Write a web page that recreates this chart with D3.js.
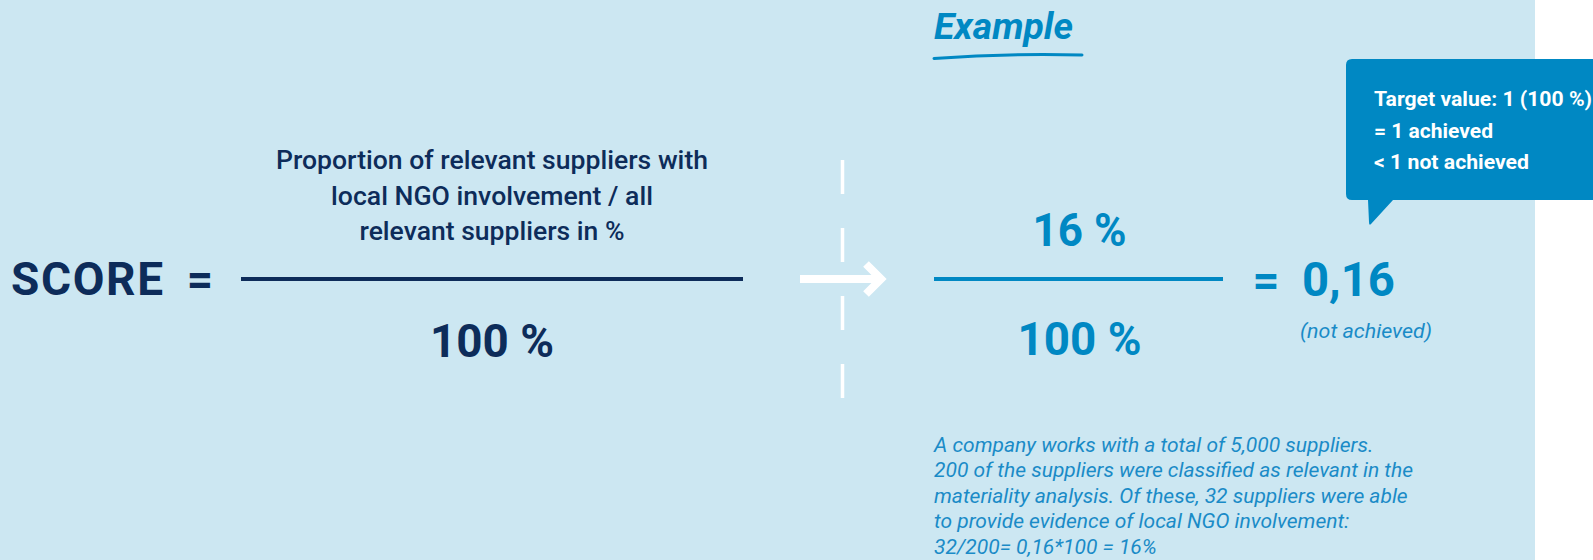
<!DOCTYPE html>
<html>
<head>
<meta charset="utf-8">
<script src="https://cdn.jsdelivr.net/npm/d3@7"></script>
<style>
  html, body { margin: 0; padding: 0; background: #fff; }
  svg { display: block; }
</style>
</head>
<body>
<svg id="chart"></svg>
<script>
// formula text
const scoreLabel = 'SCORE';
const formulaNumerator = [
    'Proportion of relevant suppliers with',
    'local NGO involvement / all',
    'relevant suppliers in %',
];
const formulaDenominator = 100;

// worked example
const exampleTitle = 'Example';
const exampleNumerator = 16;
const exampleDenominator = 100;
const exampleScore = exampleNumerator / exampleDenominator;
const exampleStatus = '(not achieved)';
const targetLines = ['Target value: 1 (100 %)', '= 1 achieved', '< 1 not achieved'];
const exampleNote = [
    'A company works with a total of 5,000 suppliers.',
    '200 of the suppliers were classified as relevant in the',
    'materiality analysis. Of these, 32 suppliers were able',
    'to provide evidence of local NGO involvement:',
    '32/200= 0,16*100 = 16%',
];

const width = 1593;
const height = 560;
const colors = {
    bg: '#cce7f2',
    navy: '#0d2c5a',
    blue: '#0088c3',
    text: '#1a8bc7',
};

const de = d3.formatLocale({ decimal: ',', thousands: '.', grouping: [3], currency: ['', ' €'] });
const fmtScore = de.format('.2f');
const pct = v => `${v} %`;

const svg = d3.select('#chart')
    .attr('width', width)
    .attr('height', height)
    .style('font-family', 'Roboto, "Noto Sans", sans-serif');

svg.append('rect')
    .attr('width', 1535)
    .attr('height', height)
    .attr('fill', colors.bg);

// squeeze/stretch a text to the width it has in the picture
function fit(sel, w) {
    sel.attr('textLength', w).attr('lengthAdjust', 'spacingAndGlyphs');
    return sel;
}

// ---- left: formula ----
const left = svg.append('g');

left.append('text')
    .attr('x', 11)
    .attr('y', 295)
    .attr('fill', colors.navy)
    .style('font-size', '46px')
    .style('font-weight', 700)
    .attr('textLength', 152)
    .attr('lengthAdjust', 'spacing')
    .text(scoreLabel);

left.append('text')
    .attr('x', 200)
    .attr('y', 295)
    .attr('text-anchor', 'middle')
    .attr('fill', colors.navy)
    .style('font-size', '46px')
    .style('font-weight', 700)
    .text('=');

const leftLine = d3.scaleLinear().domain([0, 1]).range([241, 743]);
const leftMid = leftLine(0.5);

left.append('line')
    .attr('x1', leftLine(0)).attr('x2', leftLine(1))
    .attr('y1', 279).attr('y2', 279)
    .attr('stroke', colors.navy)
    .attr('stroke-width', 4);

const numWidths = [432, 322, 265];
const numY = [169, 205, 240];
left.selectAll('text.num')
    .data(formulaNumerator)
    .join('text')
    .attr('class', 'num')
    .attr('x', leftMid)
    .attr('y', (d, i) => numY[i])
    .attr('text-anchor', 'middle')
    .attr('fill', colors.navy)
    .style('font-size', '25px')
    .style('font-weight', 500)
    .text(d => d)
    .each(function (d, i) { fit(d3.select(this), numWidths[i]); });

fit(left.append('text')
    .attr('x', leftMid)
    .attr('y', 357)
    .attr('text-anchor', 'middle')
    .attr('fill', colors.navy)
    .style('font-size', '47px')
    .style('font-weight', 700)
    .text(pct(formulaDenominator)), 124);

// ---- divider and arrow ----
svg.append('line')
    .attr('x1', 842.5).attr('x2', 842.5)
    .attr('y1', 160).attr('y2', 398)
    .attr('stroke', '#fff')
    .attr('stroke-width', 3.5)
    .attr('stroke-dasharray', '34 34');

svg.append('line')
    .attr('x1', 800).attr('x2', 882)
    .attr('y1', 279).attr('y2', 279)
    .attr('stroke', '#fff')
    .attr('stroke-width', 8);

svg.append('path')
    .attr('d', 'M866,264 L881,279 L866,294')
    .attr('fill', 'none')
    .attr('stroke', '#fff')
    .attr('stroke-width', 8)
    .attr('stroke-linecap', 'butt')
    .attr('stroke-linejoin', 'miter');

// ---- right: example ----
const right = svg.append('g');

fit(right.append('text')
    .attr('x', 934)
    .attr('y', 39)
    .attr('fill', colors.blue)
    .style('font-size', '37px')
    .style('font-weight', 700)
    .style('font-style', 'italic')
    .text(exampleTitle), 139);

right.append('path')
    .attr('d', 'M934,58.5 Q1010,53 1082,55')
    .attr('fill', 'none')
    .attr('stroke', colors.blue)
    .attr('stroke-width', 3)
    .attr('stroke-linecap', 'round');

const rightLine = d3.scaleLinear().domain([0, exampleDenominator]).range([934, 1223]);
const rightMid = rightLine(exampleDenominator / 2) + 1;

right.append('line')
    .attr('x1', rightLine(0)).attr('x2', rightLine(exampleDenominator))
    .attr('y1', 279).attr('y2', 279)
    .attr('stroke', colors.blue)
    .attr('stroke-width', 4);

fit(right.append('text')
    .attr('x', rightMid)
    .attr('y', 246)
    .attr('text-anchor', 'middle')
    .attr('fill', colors.blue)
    .style('font-size', '47px')
    .style('font-weight', 700)
    .text(pct(exampleNumerator)), 94);

fit(right.append('text')
    .attr('x', rightMid)
    .attr('y', 355)
    .attr('text-anchor', 'middle')
    .attr('fill', colors.blue)
    .style('font-size', '47px')
    .style('font-weight', 700)
    .text(pct(exampleDenominator)), 124);

right.append('text')
    .attr('x', 1266)
    .attr('y', 296)
    .attr('text-anchor', 'middle')
    .attr('fill', colors.blue)
    .style('font-size', '47px')
    .style('font-weight', 700)
    .text('=');

fit(right.append('text')
    .attr('x', 1302)
    .attr('y', 296)
    .attr('fill', colors.blue)
    .style('font-size', '48px')
    .style('font-weight', 700)
    .text(fmtScore(exampleScore)), 93);

fit(right.append('text')
    .attr('x', 1300)
    .attr('y', 338)
    .attr('fill', colors.text)
    .style('font-size', '20px')
    .style('font-weight', 400)
    .style('font-style', 'italic')
    .text(exampleStatus), 132);

// callout bubble
const bx = 1346, by = 59, bb = 200, r = 6;
right.append('path')
    .attr('d', `M${bx + r},${by} H1600 V${bb} H1393 L1371,224 Q1369,226 1369,222 L1368,${bb}`
        + ` H${bx + r} Q${bx},${bb} ${bx},${bb - r} V${by + r} Q${bx},${by} ${bx + r},${by} Z`)
    .attr('fill', colors.blue);

const targetWidths = [218, 119, 155];
right.selectAll('text.target')
    .data(targetLines)
    .join('text')
    .attr('class', 'target')
    .attr('x', 1374)
    .attr('y', (d, i) => 106 + i * 31.5)
    .attr('fill', '#fff')
    .style('font-size', '20px')
    .style('font-weight', 700)
    .text(d => d)
    .each(function (d, i) { fit(d3.select(this), targetWidths[i]); });

right.selectAll('text.note')
    .data(exampleNote)
    .join('text')
    .attr('class', 'note')
    .attr('x', 934)
    .attr('y', (d, i) => 452 + i * 25.4)
    .attr('fill', colors.text)
    .style('font-size', '21px')
    .style('font-weight', 400)
    .style('font-style', 'italic')
    .text(d => d);
</script>
</body>
</html>
